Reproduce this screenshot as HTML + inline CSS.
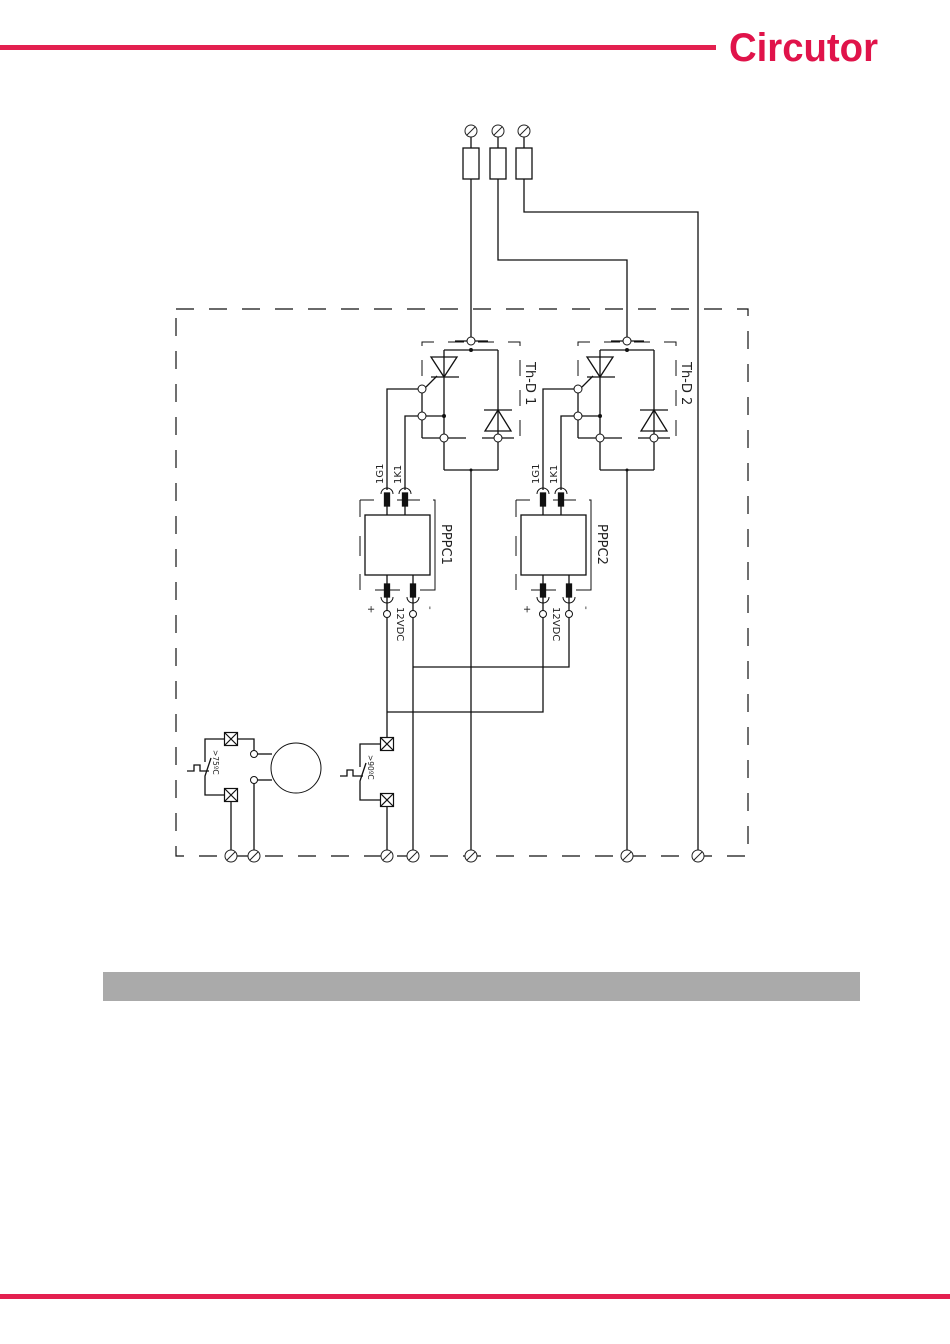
<!DOCTYPE html>
<html><head><meta charset="utf-8"><style>
html,body{margin:0;padding:0;background:#fff;}
body{width:950px;height:1344px;position:relative;overflow:hidden;}
svg{position:absolute;left:0;top:0;}
text{font-family:"DejaVu Sans","Liberation Sans",sans-serif;fill:#222;}
</style></head><body>
<svg width="950" height="1344" viewBox="0 0 950 1344" xmlns="http://www.w3.org/2000/svg">
<rect x="0" y="45" width="716" height="5" fill="#e3204f"/>
<rect x="0" y="1294" width="950" height="5" fill="#e3204f"/>
<text x="729" y="61" textLength="149" lengthAdjust="spacingAndGlyphs" style="font-family:'Liberation Sans',sans-serif;font-size:40px;font-weight:bold;fill:#e0134a">Circutor</text>
<rect x="103" y="972" width="757" height="29" fill="#aaaaaa"/>

<defs>
<g id="term"><circle r="6" fill="#fff" stroke="#222" stroke-width="1"/><line x1="-4" y1="4" x2="4" y2="-4" stroke="#222" stroke-width="1"/></g>
<g id="xbox"><rect x="-6.5" y="-6.5" width="13" height="13" fill="#fff" stroke="#111" stroke-width="1.2"/><path d="M-6.5 -6.5L6.5 6.5M6.5 -6.5L-6.5 6.5" stroke="#111" stroke-width="1.2"/></g>
<g id="unit" fill="none" stroke="#111" stroke-width="1.3">
 <path d="M422 376 V342 H520 V438" stroke-dasharray="16 14" stroke-width="1"/>
 <line x1="444" y1="350" x2="498" y2="350"/>
 <line x1="444" y1="350" x2="444" y2="470"/>
 <line x1="498" y1="350" x2="498" y2="470"/>
 <line x1="444" y1="470" x2="498" y2="470"/>
 <path d="M431 357 H457 L444 377 Z"/>
 <line x1="431" y1="377" x2="459" y2="377"/>
 <line x1="426" y1="387" x2="437" y2="376"/>
 <line x1="422" y1="389" x2="422" y2="438"/>
 <line x1="422" y1="438" x2="466" y2="438"/>
 <line x1="482" y1="438" x2="514" y2="438"/>
 <line x1="422" y1="416" x2="444" y2="416"/>
 <path d="M485 431 H511 L498 410 Z"/>
 <line x1="484" y1="410" x2="512" y2="410"/>
 <line x1="455" y1="341" x2="488" y2="341"/>
 <path d="M422 389 H387 V490"/>
 <path d="M422 416 H405 V490"/>
 <rect x="365" y="515" width="65" height="60"/>
 <path d="M360 500 H374 M397 500 H420 M433 500 H435 V590 H420 M400 590 H375 M360 590 V574 M360 556 V536 M360 517 V500" stroke-width="1"/>
 <line x1="387" y1="506" x2="387" y2="515"/>
 <line x1="405" y1="506" x2="405" y2="515"/>
 <line x1="387" y1="575" x2="387" y2="584"/>
 <line x1="413" y1="575" x2="413" y2="584"/>
 <rect x="384.5" y="493" width="5" height="13" fill="#111"/>
 <rect x="402.5" y="493" width="5" height="13" fill="#111"/>
 <rect x="384.5" y="584" width="5" height="13" fill="#111"/>
 <rect x="410.5" y="584" width="5" height="13" fill="#111"/>
 <path d="M381 494 A6 6 0 0 1 393 494" stroke-width="1"/>
 <path d="M399 494 A6 6 0 0 1 411 494" stroke-width="1"/>
 <path d="M381 597 A6 6 0 0 0 393 597" stroke-width="1"/>
 <path d="M407 597 A6 6 0 0 0 419 597" stroke-width="1"/>
 <line x1="387" y1="597" x2="387" y2="611"/>
 <line x1="413" y1="597" x2="413" y2="611"/>
 <circle cx="387" cy="614" r="3.5" fill="#fff" stroke-width="1"/>
 <circle cx="413" cy="614" r="3.5" fill="#fff" stroke-width="1"/>
 <circle cx="471" cy="341" r="4" fill="#fff" stroke-width="1"/>
 <circle cx="422" cy="389" r="4" fill="#fff" stroke-width="1"/>
 <circle cx="422" cy="416" r="4" fill="#fff" stroke-width="1"/>
 <circle cx="444" cy="438" r="4" fill="#fff" stroke-width="1"/>
 <circle cx="498" cy="438" r="4" fill="#fff" stroke-width="1"/>
 <circle cx="471" cy="350" r="2" fill="#111" stroke="none"/>
 <circle cx="444" cy="416" r="2" fill="#111" stroke="none"/>
 <circle cx="471" cy="470" r="1.5" fill="#111" stroke="none"/>
</g>
</defs>

<rect x="176" y="309" width="572" height="547" fill="none" stroke="#111" stroke-width="1.2" stroke-dasharray="18 15"/>

<g fill="none" stroke="#111" stroke-width="1.3">
 <line x1="471" y1="137" x2="471" y2="337"/>
 <path d="M498 137 V260 H627 V337"/>
 <path d="M524 137 V212 H698 V856"/>
 <line x1="471" y1="470" x2="471" y2="856"/>
 <line x1="627" y1="470" x2="627" y2="856"/>
 <line x1="387" y1="618" x2="387" y2="738"/>
 <line x1="413" y1="618" x2="413" y2="856"/>
 <path d="M543 618 V712 H387"/>
 <path d="M569 618 V667 H413"/>
 <line x1="387" y1="807" x2="387" y2="856"/>
 <path d="M380 744 H360 V767"/>
 <path d="M380 800 H360 V781 L366 763"/>
 <path d="M340 776 H347 V770 H353 V776 H363"/>
 <path d="M225 739 H205 V762"/>
 <path d="M225 795 H205 V776 L211 758"/>
 <path d="M187 771 H194 V765 H200 V771 H209"/>
 <path d="M237 739 H254 V751"/>
 <path d="M254 783 V856"/>
 <line x1="231" y1="801" x2="231" y2="856"/>
 <line x1="257" y1="754" x2="272" y2="754"/>
 <line x1="257" y1="780" x2="272" y2="780"/>
 <circle cx="296" cy="768" r="25" stroke-width="1"/>
 <circle cx="254" cy="754" r="3.5" fill="#fff" stroke-width="1"/>
 <circle cx="254" cy="780" r="3.5" fill="#fff" stroke-width="1"/>
 <rect x="463" y="148" width="16" height="31" fill="#fff"/>
 <rect x="490" y="148" width="16" height="31" fill="#fff"/>
 <rect x="516" y="148" width="16" height="31" fill="#fff"/>
</g>

<use href="#unit"/>
<use href="#unit" transform="translate(156,0)"/>

<use href="#xbox" x="387" y="744"/>
<use href="#xbox" x="387" y="800"/>
<use href="#xbox" x="231" y="739"/>
<use href="#xbox" x="231" y="795"/>

<use href="#term" x="471" y="131"/>
<use href="#term" x="498" y="131"/>
<use href="#term" x="524" y="131"/>
<use href="#term" x="231" y="856"/>
<use href="#term" x="254" y="856"/>
<use href="#term" x="387" y="856"/>
<use href="#term" x="413" y="856"/>
<use href="#term" x="471" y="856"/>
<use href="#term" x="627" y="856"/>
<use href="#term" x="698" y="856"/>

<g font-size="13">
<text transform="translate(526,362) rotate(90)">Th-D 1</text>
<text transform="translate(682,362) rotate(90)">Th-D 2</text>
<text transform="translate(442,524) rotate(90)">PPPC1</text>
<text transform="translate(598,524) rotate(90)">PPPC2</text>
</g>
<g font-size="10">
<text transform="translate(383,484) rotate(-90)">1G1</text>
<text transform="translate(401,484) rotate(-90)">1K1</text>
<text transform="translate(539,484) rotate(-90)">1G1</text>
<text transform="translate(557,484) rotate(-90)">1K1</text>
<text transform="translate(397,607) rotate(90)">12VDC</text>
<text transform="translate(553,607) rotate(90)">12VDC</text>
<text transform="translate(368,605) rotate(90)">+</text>
<text transform="translate(524,605) rotate(90)">+</text>
<text transform="translate(427,606) rotate(90)">-</text>
<text transform="translate(583,606) rotate(90)">-</text>
</g>
<g font-size="7.5">
<text transform="translate(368,755) rotate(90)">&gt;90ºC</text>
<text transform="translate(213,750) rotate(90)">&gt;75ºC</text>
</g>
</svg>
</body></html>
